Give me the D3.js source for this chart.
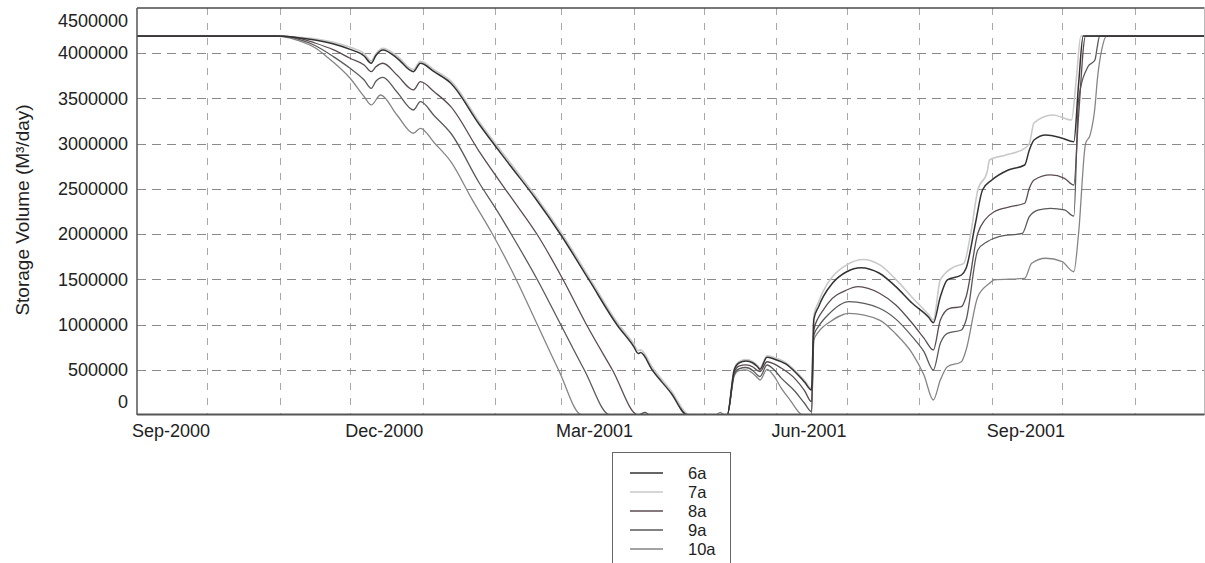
<!DOCTYPE html>
<html>
<head>
<meta charset="utf-8">
<script src="https://cdn.jsdelivr.net/npm/d3@7"></script>
<style>
  html, body { margin: 0; padding: 0; background: #fff; }
  svg { display: block; font-family: "Liberation Sans", Arial, Helvetica, sans-serif; }
</style>
</head>
<body>
<svg id="chart" width="1205" height="563"></svg>
<script>
// ---- data: storage volume per scenario, [date, value] ----
const seriesNames = ["6a", "7a", "8a", "9a", "10a"];

const s6a = [
  ["2000-09-01",4190000],["2000-10-30",4190000],["2000-11-08",4174000],["2000-11-16",4146000],
  ["2000-11-24",4102000],["2000-12-01",4043000],["2000-12-07",3969000],["2000-12-10",3889000],
  ["2000-12-12",3975000],["2000-12-15",4036000],["2000-12-21",3947000],["2000-12-28",3796000],
  ["2000-12-31",3889000],["2001-01-06",3793000],["2001-01-13",3668000],["2001-01-25",3218000],
  ["2001-02-07",2770000],["2001-02-18",2399000],["2001-03-01",1990000],["2001-03-13",1493000],
  ["2001-03-25",995000],["2001-04-01",760000],["2001-04-03",680000],["2001-04-04",690000],
  ["2001-04-09",498000],["2001-04-17",243000],["2001-04-24",0],["2001-05-11",0],
  ["2001-05-14",498000],["2001-05-16",575000],["2001-05-19",597000],["2001-05-22",575000],
  ["2001-05-24",531000],["2001-05-25",505000],["2001-05-28",638000],["2001-05-31",619000],
  ["2001-06-05",564000],["2001-06-09",475000],["2001-06-13",365000],["2001-06-16",276000],
  ["2001-06-17",1060000],["2001-06-19",1197000],["2001-06-21",1308000],["2001-06-25",1460000],
  ["2001-07-01",1584000],["2001-07-07",1629000],["2001-07-15",1567000],["2001-07-22",1419000],
  ["2001-07-29",1235000],["2001-08-05",1080000],["2001-08-07",1020000],["2001-08-10",1308000],
  ["2001-08-13",1493000],["2001-08-19",1548000],["2001-08-21",1622000],["2001-08-25",2120000],
  ["2001-08-28",2488000],["2001-09-01",2598000],["2001-09-08",2709000],["2001-09-15",2764000],
  ["2001-09-17",2930000],["2001-09-19",3041000],["2001-09-24",3096000],["2001-10-01",3060000],
  ["2001-10-06",3022000],["2001-10-08",3650000],["2001-10-10",4190000],["2001-12-01",4190000]
];

const s7a = [
  ["2000-09-01",4190000],["2000-10-30",4190000],["2000-11-08",4180000],["2000-11-16",4160000],
  ["2000-11-24",4120000],["2000-12-01",4065000],["2000-12-07",3995000],["2000-12-10",3915000],
  ["2000-12-12",3995000],["2000-12-15",4055000],["2000-12-21",3970000],["2000-12-28",3820000],
  ["2000-12-31",3910000],["2001-01-06",3815000],["2001-01-13",3695000],["2001-01-25",3245000],
  ["2001-02-07",2800000],["2001-02-18",2428000],["2001-03-01",2020000],["2001-03-13",1525000],
  ["2001-03-25",1025000],["2001-04-01",790000],["2001-04-03",712000],["2001-04-04",720000],
  ["2001-04-09",528000],["2001-04-17",270000],["2001-04-25",0],["2001-05-11",0],
  ["2001-05-14",510000],["2001-05-16",590000],["2001-05-19",612000],["2001-05-22",590000],
  ["2001-05-24",545000],["2001-05-25",520000],["2001-05-28",655000],["2001-05-31",636000],
  ["2001-06-05",580000],["2001-06-09",492000],["2001-06-13",382000],["2001-06-16",293000],
  ["2001-06-17",1100000],["2001-06-19",1250000],["2001-06-21",1370000],["2001-06-25",1530000],
  ["2001-07-01",1660000],["2001-07-08",1720000],["2001-07-15",1662000],["2001-07-22",1500000],
  ["2001-07-29",1300000],["2001-08-05",1110000],["2001-08-07",1050000],["2001-08-10",1493000],
  ["2001-08-16",1640000],["2001-08-20",1677000],["2001-08-23",2009000],["2001-08-26",2488000],
  ["2001-08-30",2690000],["2001-08-31",2820000],["2001-09-07",2875000],["2001-09-15",2949000],
  ["2001-09-17",3000000],["2001-09-19",3230000],["2001-09-27",3317000],["2001-10-05",3262000],
  ["2001-10-07",3700000],["2001-10-09",4190000],["2001-12-01",4190000]
];

const s8a = [
  ["2000-09-01",4190000],["2000-11-01",4190000],["2000-11-07",4178000],["2000-11-16",4113000],
  ["2000-11-24",4036000],["2000-12-01",3944000],["2000-12-07",3870000],["2000-12-10",3796000],
  ["2000-12-12",3850000],["2000-12-15",3889000],["2000-12-21",3759000],["2000-12-28",3594000],
  ["2000-12-31",3685000],["2001-01-06",3571000],["2001-01-13",3409000],["2001-01-25",2918000],
  ["2001-02-07",2433000],["2001-02-19",1990000],["2001-03-02",1493000],["2001-03-12",995000],
  ["2001-03-23",498000],["2001-04-03",0],["2001-04-06",30000],["2001-04-08",0],
  ["2001-05-11",0],["2001-05-14",470000],["2001-05-16",540000],["2001-05-19",555000],
  ["2001-05-22",530000],["2001-05-24",490000],["2001-05-25",479000],["2001-05-28",589000],
  ["2001-05-31",565000],["2001-06-03",520000],["2001-06-09",400000],["2001-06-13",270000],
  ["2001-06-16",147000],["2001-06-17",940000],["2001-06-19",1080000],["2001-06-21",1160000],
  ["2001-06-23",1235000],["2001-07-01",1382000],["2001-07-06",1419000],["2001-07-15",1346000],
  ["2001-07-22",1216000],["2001-07-29",1014000],["2001-08-03",850000],["2001-08-07",719000],
  ["2001-08-10",1050000],["2001-08-14",1180000],["2001-08-19",1197000],["2001-08-21",1308000],
  ["2001-08-26",2009000],["2001-08-29",2156000],["2001-09-02",2248000],["2001-09-09",2303000],
  ["2001-09-15",2341000],["2001-09-17",2507000],["2001-09-19",2598000],["2001-09-26",2654000],
  ["2001-10-02",2617000],["2001-10-06",2543000],["2001-10-08",3300000],["2001-10-11",4190000],
  ["2001-12-01",4190000]
];

const s9a = [
  ["2000-09-01",4190000],["2000-10-31",4190000],["2000-11-05",4178000],["2000-11-16",4085000],
  ["2000-11-24",3960000],["2000-12-01",3833000],["2000-12-07",3704000],["2000-12-10",3612000],
  ["2000-12-12",3690000],["2000-12-15",3734000],["2000-12-21",3571000],["2000-12-28",3372000],
  ["2000-12-31",3464000],["2001-01-06",3306000],["2001-01-13",3115000],["2001-01-25",2571000],
  ["2001-02-02",2249000],["2001-02-08",1990000],["2001-02-19",1493000],["2001-03-01",995000],
  ["2001-03-11",498000],["2001-03-22",0],["2001-05-11",0],["2001-05-14",450000],
  ["2001-05-16",510000],["2001-05-19",525000],["2001-05-22",490000],["2001-05-24",440000],
  ["2001-05-25",424000],["2001-05-28",553000],["2001-05-31",500000],["2001-06-03",410000],
  ["2001-06-09",260000],["2001-06-13",130000],["2001-06-16",36000],["2001-06-17",885000],
  ["2001-06-19",980000],["2001-06-21",1050000],["2001-06-23",1106000],["2001-07-02",1253000],
  ["2001-07-15",1180000],["2001-07-22",1060000],["2001-07-29",866000],["2001-08-03",700000],
  ["2001-08-07",498000],["2001-08-10",793000],["2001-08-13",903000],["2001-08-19",940000],
  ["2001-08-21",1050000],["2001-08-26",1824000],["2001-08-30",1916000],["2001-09-04",1972000],
  ["2001-09-14",2009000],["2001-09-17",2193000],["2001-09-21",2267000],["2001-09-26",2285000],
  ["2001-10-02",2267000],["2001-10-06",2200000],["2001-10-08",3480000],["2001-10-12",3850000],
  ["2001-10-15",3925000],["2001-10-16",4070000],["2001-10-17",4190000],["2001-12-01",4190000]
];

const s10a = [
  ["2000-09-01",4190000],["2000-10-30",4190000],["2000-11-02",4183000],["2000-11-09",4140000],
  ["2000-11-16",4060000],["2000-11-21",3962000],["2000-12-01",3723000],["2000-12-07",3519000],
  ["2000-12-10",3428000],["2000-12-14",3538000],["2000-12-21",3317000],["2000-12-28",3115000],
  ["2000-12-31",3170000],["2001-01-06",3007000],["2001-01-13",2801000],["2001-01-22",2387000],
  ["2001-01-31",1990000],["2001-02-10",1493000],["2001-02-19",995000],["2001-02-28",498000],
  ["2001-03-10",0],["2001-05-06",0],["2001-05-08",30000],["2001-05-10",0],
  ["2001-05-11",0],["2001-05-14",430000],["2001-05-16",490000],["2001-05-19",500000],
  ["2001-05-22",460000],["2001-05-24",410000],["2001-05-25",387000],["2001-05-28",505000],
  ["2001-05-31",430000],["2001-06-03",300000],["2001-06-07",160000],["2001-06-11",20000],
  ["2001-06-12",0],["2001-06-16",0],["2001-06-17",829000],["2001-06-19",920000],
  ["2001-06-21",975000],["2001-06-23",1014000],["2001-07-02",1124000],["2001-07-15",1050000],
  ["2001-07-22",896000],["2001-07-29",682000],["2001-08-03",442000],["2001-08-07",166000],
  ["2001-08-10",387000],["2001-08-13",534000],["2001-08-19",589000],["2001-08-21",719000],
  ["2001-08-26",1308000],["2001-08-31",1456000],["2001-09-02",1493000],["2001-09-15",1511000],
  ["2001-09-18",1677000],["2001-09-24",1733000],["2001-10-01",1695000],["2001-10-06",1584000],
  ["2001-10-08",2000000],["2001-10-11",3000000],["2001-10-13",3100000],["2001-10-15",3400000],
  ["2001-10-16",3700000],["2001-10-18",4050000],["2001-10-20",4190000],["2001-12-01",4190000]
];

const yTickValues = [0,500000,1000000,1500000,2000000,2500000,3000000,3500000,4000000,4500000];
const xLabelDates = ["2000-09-01","2000-12-01","2001-03-01","2001-06-01","2001-09-01"];
const xDomain = ["2000-09-01","2001-12-01"];
const yTitle = "Storage Volume (M\u00B3/day)";

// ---- layout ----
const parse = d3.utcParse("%Y-%m-%d");
const svg = d3.select("#chart");
const L = 137, R = 1204.5, T = 8, B = 415;

const x = d3.scaleUtc().domain(xDomain.map(parse)).range([L, 1205]);
const y = d3.scaleLinear().domain([0, 4500000]).range([B, T]);

const styles = {
  "6a":  { color: "#333333", width: 1.5 },
  "7a":  { color: "#c9c9c9", width: 1.6 },
  "8a":  { color: "#5c4c52", width: 1.3 },
  "9a":  { color: "#5a5a5a", width: 1.3 },
  "10a": { color: "#858585", width: 1.3 }
};
const seriesData = { "6a": s6a, "7a": s7a, "8a": s8a, "9a": s9a, "10a": s10a };

svg.append("defs").append("clipPath").attr("id", "plotClip")
  .append("rect").attr("x", L).attr("y", T).attr("width", R - L).attr("height", B - T);

// ---- grid ----
const grid = svg.append("g");
const monthLines = d3.utcMonth.range(parse("2000-10-01"), parse("2001-12-01"));
grid.selectAll("line.v").data(monthLines).join("line")
  .attr("class", "v")
  .attr("x1", d => Math.round(x(d)) + 0.5).attr("x2", d => Math.round(x(d)) + 0.5)
  .attr("y1", T).attr("y2", B)
  .attr("stroke", "#a8a8a8").attr("stroke-width", 1)
  .attr("stroke-dasharray", "7,8");

grid.selectAll("line.h").data(yTickValues.filter(v => v > 0 && v < 4500000)).join("line")
  .attr("class", "h")
  .attr("x1", L).attr("x2", R)
  .attr("y1", d => Math.round(y(d)) + 0.5).attr("y2", d => Math.round(y(d)) + 0.5)
  .attr("stroke", "#8a8a8a").attr("stroke-width", 1)
  .attr("stroke-dasharray", "9,6");

// ---- series lines ----
const line = d3.line()
  .x(d => x(parse(d[0])))
  .y(d => y(d[1]))
  .curve(d3.curveMonotoneX);

const drawOrder = ["7a", "10a", "9a", "8a", "6a"];
svg.append("g").attr("clip-path", "url(#plotClip)")
  .selectAll("path").data(drawOrder).join("path")
  .attr("d", k => line(seriesData[k]))
  .attr("fill", "none")
  .attr("stroke", k => styles[k].color)
  .attr("stroke-width", k => styles[k].width)
  .attr("stroke-linejoin", "round");

// ---- frame ----
svg.append("line").attr("x1", L).attr("x2", R).attr("y1", T).attr("y2", T)
  .attr("stroke", "#4a4a4a").attr("stroke-width", 1.6);
svg.append("line").attr("x1", R).attr("x2", R).attr("y1", T).attr("y2", B)
  .attr("stroke", "#bbbbbb").attr("stroke-width", 1);
svg.append("line").attr("x1", L).attr("x2", L).attr("y1", T).attr("y2", B)
  .attr("stroke", "#555555").attr("stroke-width", 1.5);
svg.append("line").attr("x1", L).attr("x2", R).attr("y1", B - 0.5).attr("y2", B - 0.5)
  .attr("stroke", "#555555").attr("stroke-width", 2);

// ---- axes ----
const yAxis = svg.append("g").attr("transform", `translate(${L},0)`)
  .call(d3.axisLeft(y).tickValues(yTickValues).tickSize(0).tickPadding(9)
    .tickFormat(d3.format("d")));
yAxis.select(".domain").remove();
yAxis.selectAll("text")
  .attr("font-size", 18).attr("fill", "#222")
  .attr("font-family", '"Liberation Sans", Arial, sans-serif')
  .attr("transform", d => d === 0 ? "translate(0,-13)" : d === 4500000 ? "translate(0,12.5)" : null);

const xAxis = svg.append("g").attr("transform", `translate(0,${B})`)
  .call(d3.axisBottom(x).tickValues(xLabelDates.map(parse)).tickSize(0).tickPadding(9.5)
    .tickFormat(d3.utcFormat("%b-%Y")));
xAxis.select(".domain").remove();
xAxis.selectAll("text")
  .attr("font-size", 18).attr("fill", "#222")
  .attr("font-family", '"Liberation Sans", Arial, sans-serif')
  .attr("text-anchor", "start").attr("dx", -5.5);

svg.append("text")
  .attr("transform", "translate(29,210) rotate(-90)")
  .attr("text-anchor", "middle")
  .attr("font-size", 19).attr("fill", "#222")
  .text(yTitle);

// ---- legend ----
const legend = svg.append("g");
legend.append("rect").attr("x", 612.5).attr("y", 452.5).attr("width", 118).attr("height", 130)
  .attr("fill", "#fff").attr("stroke", "#666").attr("stroke-width", 1);
const items = legend.selectAll("g.item").data(seriesNames).join("g")
  .attr("class", "item")
  .attr("transform", (d, i) => `translate(0,${473 + i * 19})`);
items.append("line").attr("x1", 630).attr("x2", 663).attr("y1", 0).attr("y2", 0)
  .attr("stroke", k => styles[k].color).attr("stroke-width", k => styles[k].width);
items.append("text").attr("x", 688).attr("y", 0).attr("dy", "0.36em")
  .attr("font-size", 16.5).attr("fill", "#222").text(d => d);
</script>
</body>
</html>
